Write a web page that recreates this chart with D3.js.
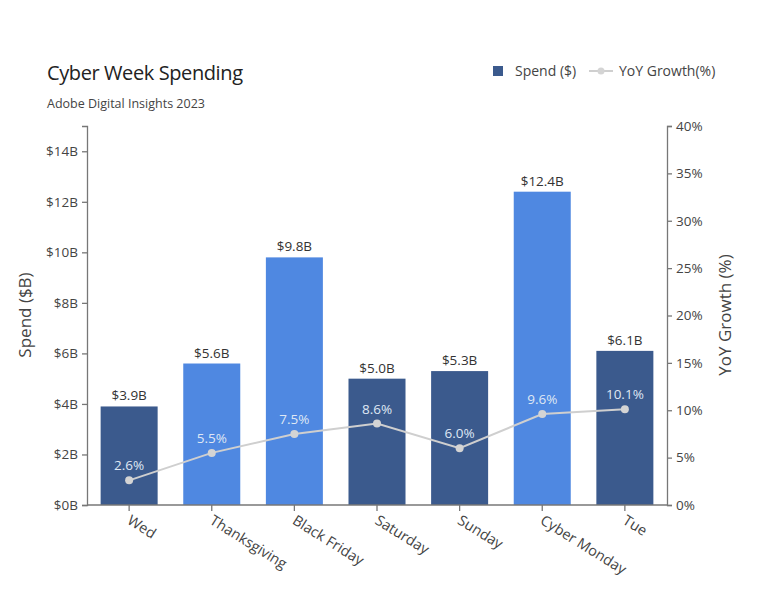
<!DOCTYPE html>
<html><head><meta charset="utf-8">
<script src="https://cdn.jsdelivr.net/npm/d3@7"></script>
<style>body{margin:0;background:#fff;font-family:"Open Sans",sans-serif;}</style>
</head><body>
<svg id="c" width="767" height="597"></svg>
<script>
const categories = ["Wed","Thanksgiving","Black Friday","Saturday","Sunday","Cyber Monday","Tue"];
const spend = [3.9, 5.6, 9.8, 5.0, 5.3, 12.4, 6.1];
const growth = [2.6, 5.5, 7.5, 8.6, 6.0, 9.6, 10.1];
const highlight = [false, true, true, false, false, true, false];
const leftTicks = [0,2,4,6,8,10,12,14];
const rightTicks = [0,5,10,15,20,25,30,35,40];

const svg = d3.select("#c");
const m = {l:87, r:667, t:126, b:505};
const x = d3.scaleBand().domain(categories).range([m.l, m.r]).paddingInner(0.31).paddingOuter(0.165);
const y = d3.scaleLinear().domain([0,15]).range([m.b, m.t]);
const y2 = d3.scaleLinear().domain([0,40]).range([m.b, m.t]);
const font = "Open Sans, sans-serif";

// bars
svg.selectAll("rect.bar").data(spend).join("rect")
  .attr("x",(d,i)=>x(categories[i])).attr("width",x.bandwidth())
  .attr("y",d=>y(d)).attr("height",d=>y(0)-y(d))
  .attr("fill",(d,i)=>highlight[i]?"#4f88e1":"#3b5a8d");

svg.selectAll("text.bl").data(spend).join("text")
  .attr("x",(d,i)=>x(categories[i])+x.bandwidth()/2).attr("y",d=>y(d)-6)
  .attr("text-anchor","middle").attr("font-family",font).attr("font-size",13.5).attr("fill","#333")
  .text(d=>"$"+d.toFixed(1)+"B");

// axes
const la = svg.append("g").attr("transform",`translate(${m.l},0)`)
  .call(d3.axisLeft(y).tickValues(leftTicks).tickFormat(d=>"$"+d+"B").tickSize(5).tickPadding(4));
const ra = svg.append("g").attr("transform",`translate(${m.r},0)`)
  .call(d3.axisRight(y2).tickValues(rightTicks).tickFormat(d=>d+"%").tickSize(5).tickPadding(4));
const ba = svg.append("g").attr("transform",`translate(0,${m.b})`)
  .call(d3.axisBottom(x).tickSize(6).tickSizeOuter(0));
[la,ra,ba].forEach(g=>{
  g.selectAll("path,line").attr("stroke","#777").attr("stroke-width",1.3);
  g.selectAll("text").attr("font-family",font).attr("font-size",13.5).attr("fill","#444");
});
ba.select(".domain").attr("d",`M${m.l},0H${m.r}`);
ba.selectAll("text").attr("font-size",14.5).attr("text-anchor","start").attr("dy",0).attr("y",0)
  .attr("transform","translate(-3,18) rotate(32)");

// line
const px = (d,i)=>x(categories[i])+x.bandwidth()/2;
svg.append("path").datum(growth)
  .attr("d",d3.line().x(px).y(d=>y2(d)))
  .attr("fill","none").attr("stroke","#cfcfcf").attr("stroke-width",2);
svg.selectAll("circle.pt").data(growth).join("circle")
  .attr("cx",px).attr("cy",d=>y2(d)).attr("r",4).attr("fill","#d4d4d4");
svg.selectAll("text.gl").data(growth).join("text")
  .attr("x",px).attr("y",d=>y2(d)-10)
  .attr("text-anchor","middle").attr("font-family",font).attr("font-size",13.5).attr("fill","#dfe7f4")
  .text(d=>d.toFixed(1)+"%");

// axis titles
svg.append("text").attr("transform","translate(31,315) rotate(-90)").attr("text-anchor","middle")
  .attr("font-family",font).attr("font-size",17).attr("fill","#444").text("Spend ($B)");
svg.append("text").attr("transform","translate(731,315) rotate(-90)").attr("text-anchor","middle")
  .attr("font-family",font).attr("font-size",17).attr("fill","#444").text("YoY Growth (%)");

// title
svg.append("text").attr("x",47).attr("y",80).attr("font-family",font).attr("font-size",20)
  .attr("fill","#222").attr("letter-spacing",-0.4).text("Cyber Week Spending");
svg.append("text").attr("x",47).attr("y",108).attr("font-family",font).attr("font-size",12.5)
  .attr("fill","#444").text("Adobe Digital Insights 2023");

// legend
svg.append("rect").attr("x",493).attr("y",66).attr("width",10).attr("height",10).attr("fill","#3b5a8d");
svg.append("text").attr("x",515).attr("y",76).attr("font-family",font).attr("font-size",14).attr("fill","#444").text("Spend ($)");
svg.append("line").attr("x1",589).attr("x2",613).attr("y1",71).attr("y2",71).attr("stroke","#cfcfcf").attr("stroke-width",2);
svg.append("circle").attr("cx",601).attr("cy",71).attr("r",3.5).attr("fill","#d4d4d4");
svg.append("text").attr("x",619).attr("y",76).attr("font-family",font).attr("font-size",14).attr("fill","#444").text("YoY Growth(%)");
</script>
</body></html>
